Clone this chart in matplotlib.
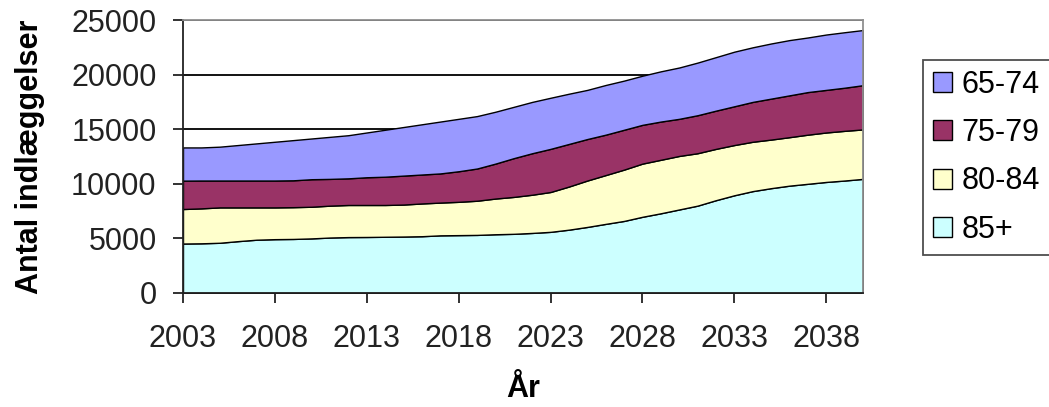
import matplotlib
matplotlib.use("Agg")
from matplotlib import pyplot as plt

plt.rcParams['font.family'] = ['Liberation Sans', 'DejaVu Sans']

# Forventede indlæggelser pr. aldersgruppe, 2003-2040
years = list(range(2003, 2041))

age_85 = [4530, 4550, 4600, 4750, 4880, 4930, 4950, 5000, 5080, 5120,
          5130, 5150, 5170, 5200, 5280, 5300, 5320, 5380, 5420, 5500,
          5600, 5800, 6050, 6330, 6600, 6980, 7300, 7650, 8000, 8500,
          8950, 9330, 9600, 9830, 10000, 10170, 10300, 10450]
age_80_84 = [3160, 3200, 3240, 3090, 2960, 2910, 2910, 2900, 2920, 2940,
             2930, 2910, 2930, 3000, 3000, 3050, 3130, 3270, 3380, 3500,
             3650, 3950, 4250, 4470, 4700, 4870, 4900, 4900, 4800, 4700,
             4600, 4520, 4450, 4440, 4500, 4530, 4550, 4530]
age_75_79 = [2600, 2550, 2460, 2460, 2460, 2460, 2460, 2520, 2450, 2440,
             2540, 2590, 2650, 2650, 2670, 2800, 2950, 3200, 3550, 3800,
             3950, 3900, 3800, 3700, 3650, 3550, 3500, 3400, 3480, 3500,
             3550, 3650, 3750, 3830, 3900, 3900, 3950, 4050]
age_65_74 = [3040, 3030, 3100, 3250, 3400, 3550, 3680, 3730, 3850, 3950,
             4100, 4300, 4450, 4600, 4750, 4800, 4800, 4750, 4700, 4700,
             4680, 4600, 4500, 4550, 4500, 4500, 4600, 4700, 4820, 4900,
             5000, 5000, 5050, 5060, 5000, 5070, 5080, 5050]

labels = ['85+', '80-84', '75-79', '65-74']
colors = ['#CCFFFF', '#FFFFCC', '#993366', '#9999FF']
xticks = list(range(2003, 2039, 5))
yticks = list(range(0, 25001, 5000))

fig = plt.figure(figsize=(10.49, 4.07), dpi=100)
ax = fig.add_axes([183 / 1049, 1 - 293 / 407, 680 / 1049, 273 / 407])

polys = ax.stackplot(years, age_85, age_80_84, age_75_79, age_65_74,
                     labels=labels, colors=colors,
                     edgecolor='black', linewidth=1.0, zorder=2)

ax.set_xlim(2003, 2040)
ax.set_ylim(0, 25000)
ax.set_xticks(xticks)
ax.set_yticks(yticks)
ax.yaxis.grid(True, color='black', linewidth=1.3, zorder=0)
ax.set_axisbelow(True)

for side in ['top', 'right']:
    ax.spines[side].set_color('#909090')
    ax.spines[side].set_linewidth(1.3)
for side in ['left', 'bottom']:
    ax.spines[side].set_color('#222222')
    ax.spines[side].set_linewidth(1.3)

ax.tick_params(axis='both', direction='out', length=7, width=1.3,
               colors='#222222', labelsize=22, labelcolor='#222222')
ax.tick_params(axis='y', pad=12)
ax.tick_params(axis='x', pad=15)

ax.set_xlabel('År', fontsize=22, fontweight='bold')
ax.set_ylabel('Antal indlæggelser', fontsize=22, fontweight='bold')
ax.xaxis.set_label_coords(0.5, -0.295)
ax.yaxis.set_label_coords(-0.203, 0.5)

leg = fig.legend(polys[::-1], labels[::-1], loc='upper left',
                 bbox_to_anchor=(923 / 1049, 1 - 60 / 407), borderaxespad=0,
                 fontsize=22, frameon=True, fancybox=False, shadow=False,
                 handlelength=0.62, handleheight=0.62, handletextpad=0.33,
                 borderpad=0.32, labelspacing=0.6)
leg.get_frame().set_edgecolor('#222222')
leg.get_frame().set_linewidth(1.3)

fig.savefig('out.png', dpi=100, facecolor='white')
